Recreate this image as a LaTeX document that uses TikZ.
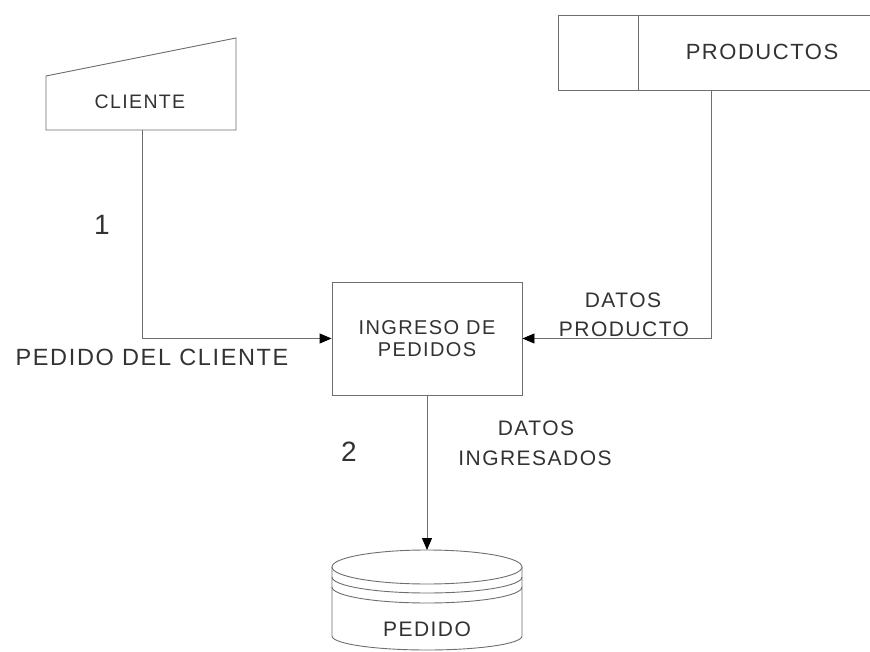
\documentclass[tikz,border=0pt]{standalone}
\usepackage{fontspec}
\setmainfont{Liberation Sans}[LetterSpace=7]
\usetikzlibrary{arrows.meta}
\definecolor{ink}{RGB}{50,50,50}
\definecolor{linec}{RGB}{110,110,110}
\tikzset{
  shapeline/.style={draw=linec, line width=0.9pt},
  flow/.style={draw=linec, line width=0.9pt, -{Triangle[length=12pt,width=10pt,color=black]}},
  lbl/.style={text=ink, inner sep=0pt, font=\fontsize{21}{24}\selectfont},
  biglbl/.style={text=ink, inner sep=0pt, font=\fontsize{23.5}{26}\selectfont},
  numlbl/.style={text=ink, inner sep=0pt, font=\fontsize{28}{30}\selectfont},
  procbox/.style={shapeline, fill=white, minimum width=190pt, minimum height=113pt, inner sep=0pt, align=center, text=ink, font=\fontsize{20}{22}\selectfont}
}
\begin{document}
\begin{tikzpicture}[x=1pt,y=-1pt]
\useasboundingbox (0,0) rectangle (870,652);
% CLIENTE (external entity)
\draw[shapeline] (46,76) -- (236,38) -- (236,130) -- (46,130) -- cycle;
\node[lbl, font=\fontsize{19.5}{22}\selectfont] (cliente) at (140,102) {CLIENTE};
\coordinate (clibot) at (142,130);
% PRODUCTOS (data store)
\draw[shapeline] (880,15) -- (558,15) -- (558,90) -- (880,90);
\draw[shapeline] (638,15) -- (638,90);
\node[lbl, font=\fontsize{22}{24}\selectfont] (productos) at (762,52) {PRODUCTOS};
\coordinate (probot) at (711,90);
% Process
\node[procbox] (proc) at (427,338.5) {INGRESO DE\\PEDIDOS};
% PEDIDO cylinder
\draw[shapeline] (427,567) ellipse [x radius=95, y radius=17];
\draw[shapeline] (332,577) arc[start angle=180, end angle=0, x radius=95, y radius=16];
\draw[shapeline] (332,587) arc[start angle=180, end angle=0, x radius=95, y radius=16];
\draw[shapeline] (332,567) -- (332,636) arc[start angle=180, end angle=0, x radius=95, y radius=14] -- (522,567);
\coordinate (pedtop) at (427,550);
\node[lbl] (pedido) at (427,629) {PEDIDO};
% Flows
\draw[flow] (clibot) |- (proc.west);
\draw[flow] (probot) |- (proc.east);
\draw[flow] (proc.south) -- (pedtop);
% Labels
\node[numlbl] (n1) at (102,225) {1};
\node[numlbl] (n2) at (349,452) {2};
\node[biglbl] (pedcli) at (152,357) {PEDIDO DEL CLIENTE};
\node[lbl] (datos1) at (623,300) {DATOS};
\node[lbl] (producto) at (624,329) {PRODUCTO};
\node[lbl] (datos2) at (536,428) {DATOS};
\node[lbl] (ingresados) at (535,458) {INGRESADOS};
\end{tikzpicture}
\end{document}
